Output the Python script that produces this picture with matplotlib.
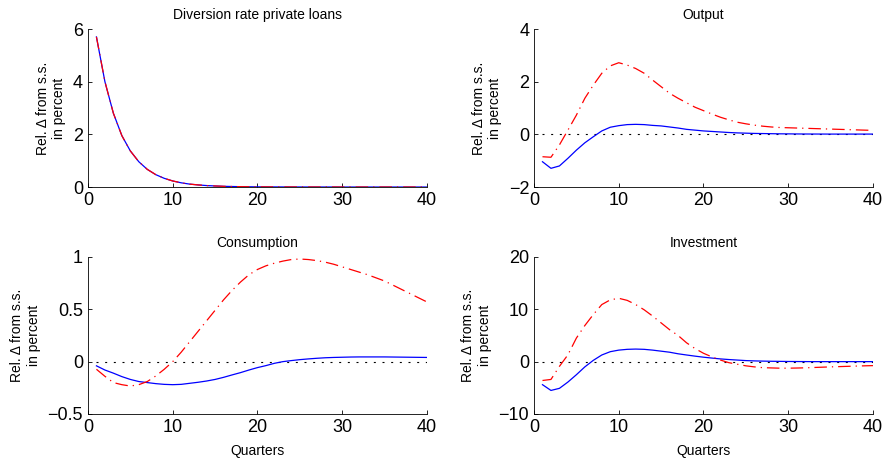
import matplotlib
matplotlib.use("Agg")
from matplotlib import pyplot as plt

plt.rcParams['font.family'] = ['Liberation Sans', 'DejaVu Sans']

quarters = list(range(1, 41))

# Diversion rate private loans (both models nearly identical)
div_blue = [5.7, 4.0, 2.8, 1.95, 1.37, 0.96, 0.67, 0.47, 0.33, 0.23,
            0.16, 0.11, 0.08, 0.055, 0.04, 0.027, 0.019, 0.013, 0.009, 0.006,
            0.005, 0.004, 0.003, 0.002, 0.002, 0.001, 0.001, 0.001, 0.001, 0.0,
            0.0, 0.0, 0.0, 0.0, 0.0, 0.0, 0.0, 0.0, 0.0, 0.0]
div_red = list(div_blue)

out_blue = [-1.04, -1.29, -1.2, -0.91, -0.6, -0.32, -0.09, 0.13, 0.27, 0.33,
            0.37, 0.38, 0.37, 0.34, 0.32, 0.28, 0.24, 0.19, 0.16, 0.13,
            0.11, 0.09, 0.07, 0.055, 0.045, 0.035, 0.03, 0.025, 0.02, 0.018,
            0.015, 0.013, 0.012, 0.011, 0.01, 0.01, 0.01, 0.01, 0.01, 0.01]
out_red = [-0.85, -0.87, -0.4, 0.16, 0.73, 1.37, 1.87, 2.32, 2.6, 2.72,
           2.63, 2.5, 2.32, 2.06, 1.81, 1.56, 1.37, 1.2, 1.03, 0.9,
           0.77, 0.65, 0.55, 0.46, 0.4, 0.35, 0.31, 0.28, 0.26, 0.25,
           0.24, 0.23, 0.22, 0.21, 0.2, 0.19, 0.18, 0.17, 0.16, 0.15]

con_blue = [-0.04, -0.08, -0.11, -0.143, -0.17, -0.19, -0.2, -0.21, -0.217, -0.22,
            -0.217, -0.207, -0.197, -0.185, -0.17, -0.15, -0.127, -0.105, -0.08, -0.057,
            -0.038, -0.016, 0.0, 0.01, 0.019, 0.026, 0.032, 0.037, 0.04, 0.042,
            0.044, 0.045, 0.045, 0.045, 0.045, 0.044, 0.043, 0.042, 0.041, 0.04]
con_red = [-0.073, -0.14, -0.2, -0.22, -0.233, -0.22, -0.19, -0.137, -0.073, 0.0,
           0.09, 0.19, 0.29, 0.39, 0.49, 0.59, 0.68, 0.76, 0.83, 0.88,
           0.915, 0.94, 0.96, 0.975, 0.98, 0.975, 0.965, 0.95, 0.93, 0.905,
           0.88, 0.855, 0.83, 0.8, 0.77, 0.73, 0.69, 0.65, 0.61, 0.57]

inv_blue = [-4.4, -5.5, -5.1, -3.9, -2.5, -1.0, 0.25, 1.27, 1.9, 2.2,
            2.35, 2.4, 2.35, 2.2, 2.0, 1.8, 1.5, 1.27, 1.05, 0.85,
            0.68, 0.52, 0.4, 0.3, 0.2, 0.14, 0.1, 0.07, 0.05, 0.03,
            0.02, 0.01, 0.0, 0.0, 0.0, 0.0, 0.0, 0.0, 0.0, 0.0]
inv_red = [-3.6, -3.4, -0.9, 1.3, 4.5, 6.9, 9.0, 10.9, 11.8, 12.1,
           11.7, 10.9, 9.9, 8.7, 7.4, 6.1, 5.0, 3.6, 2.5, 1.6,
           0.9, 0.3, -0.2, -0.5, -0.8, -1.0, -1.15, -1.2, -1.25, -1.25,
           -1.22, -1.18, -1.12, -1.06, -1.0, -0.95, -0.9, -0.85, -0.8, -0.76]

panels = [
    ("Diversion rate private loans", div_blue, div_red, (0, 6), [0, 2, 4, 6], False),
    ("Output", out_blue, out_red, (-2, 4), [-2, 0, 2, 4], True),
    ("Consumption", con_blue, con_red, (-0.5, 1), [-0.5, 0, 0.5, 1], True),
    ("Investment", inv_blue, inv_red, (-10, 20), [-10, 0, 10, 20], True),
]
tick_labels = [
    ["0", "2", "4", "6"],
    ["\u22122", "0", "2", "4"],
    ["\u22120.5", "0", "0.5", "1"],
    ["\u221210", "0", "10", "20"],
]

fig = plt.figure(figsize=(8.85, 4.62), dpi=100)
positions = [
    [0.0994, 0.5952, 0.383, 0.342],
    [0.6034, 0.5952, 0.383, 0.342],
    [0.0994, 0.1039, 0.383, 0.340],
    [0.6034, 0.1039, 0.383, 0.340],
]

for i, (title, blue, red, ylim, yticks, zero) in enumerate(panels):
    ax = fig.add_axes(positions[i])
    if zero:
        ax.plot(quarters, [0] * len(quarters), color='black', linestyle=(0, (1.8, 6)), linewidth=0.8)
    ax.plot(quarters, blue, color='blue', linewidth=0.9)
    ax.plot(quarters, red, color='red', linewidth=0.9, linestyle=(0, (10, 4, 1, 4)))
    ax.set_xlim(0, 40)
    ax.set_ylim(*ylim)
    ax.set_xticks([0, 10, 20, 30, 40])
    ax.set_yticks(yticks)
    ax.set_yticklabels(tick_labels[i])
    ax.spines['top'].set_visible(False)
    ax.spines['right'].set_visible(False)
    ax.tick_params(direction='in', length=3, labelsize=13, width=0.6)
    for s in ('left', 'bottom'):
        ax.spines[s].set_linewidth(0.6)
    ax.set_title(title, fontsize=10, pad=7)
    ax.set_ylabel("Rel. \u0394 from s.s.\nin percent", fontsize=10, labelpad=5)
    if i >= 2:
        ax.set_xlabel("Quarters", fontsize=10, labelpad=6)

fig.savefig("out.png", dpi=100)
